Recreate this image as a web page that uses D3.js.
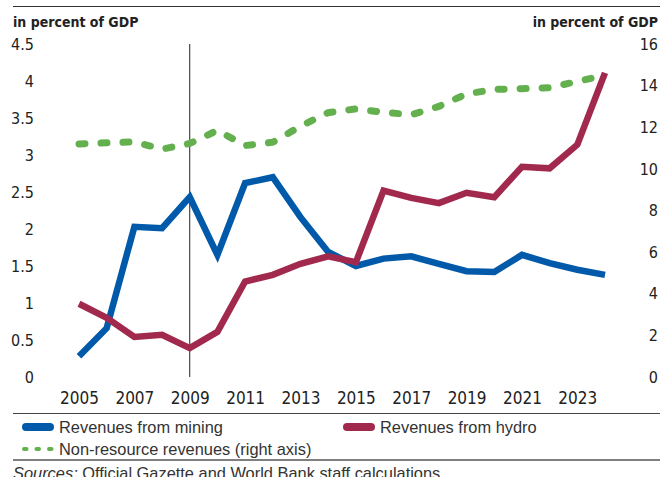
<!DOCTYPE html>
<html>
<head>
<meta charset="utf-8">
<script src="https://cdn.jsdelivr.net/npm/d3@7"></script>
<style>
  body { margin: 0; background: #fff; }
  svg { display: block; }
  .num { font-family: "DejaVu Sans Condensed", "DejaVu Sans", sans-serif; font-stretch: condensed; fill: #222; }
  .txt { font-family: "Liberation Sans", Arial, sans-serif; fill: #333; }
</style>
</head>
<body>
<div id="chart"></div>
<script>
// Data
const years = [2005, 2006, 2007, 2008, 2009, 2010, 2011, 2012, 2013, 2014,
               2015, 2016, 2017, 2018, 2019, 2020, 2021, 2022, 2023, 2024];
const mining = [0.28, 0.66, 2.03, 2.01, 2.43, 1.65, 2.62, 2.70, 2.16, 1.69,
                1.50, 1.60, 1.63, 1.53, 1.43, 1.42, 1.65, 1.54, 1.45, 1.38];
const hydro = [0.99, 0.80, 0.54, 0.57, 0.39, 0.61, 1.29, 1.38, 1.53, 1.63,
               1.55, 2.52, 2.42, 2.35, 2.49, 2.43, 2.84, 2.82, 3.14, 4.11];
const nonResource = [11.2, 11.25, 11.3, 10.95, 11.22, 11.85, 11.12, 11.28, 12.05, 12.7,
                     12.88, 12.72, 12.6, 13.0, 13.6, 13.82, 13.85, 13.9, 14.2, 14.5];
const xTicks = [2005, 2007, 2009, 2011, 2013, 2015, 2017, 2019, 2021, 2023];
const leftTicks = [0, 0.5, 1, 1.5, 2, 2.5, 3, 3.5, 4, 4.5];
const rightTicks = [0, 2, 4, 6, 8, 10, 12, 14, 16];
const markerYear = 2009;

const width = 660, height = 477;
const blue = '#0059a9', maroon = '#a2294e', green = '#64b04f';

const svg = d3.select('#chart').append('svg')
  .attr('width', width).attr('height', height);

const x = d3.scaleLinear().domain([2005, 2024]).range([79, 605]);
const yL = d3.scaleLinear().domain([0, 4.5]).range([377, 44]);
const yR = d3.scaleLinear().domain([0, 16]).range([377, 44]);

// top rule and axis titles
svg.append('line').attr('x1', 13).attr('x2', width).attr('y1', 6.5).attr('y2', 6.5)
  .attr('stroke', '#333').attr('stroke-width', 1);
svg.append('text').attr('class', 'num').attr('x', 13).attr('y', 27)
  .style('font-size', '14px').style('font-weight', 'bold')
  .text('in percent of GDP');
svg.append('text').attr('class', 'num').attr('x', 658).attr('y', 27)
  .attr('text-anchor', 'end')
  .style('font-size', '14px').style('font-weight', 'bold')
  .text('in percent of GDP');

// axes (labels only, no domain or ticks)
const leftAxis = svg.append('g').attr('transform', 'translate(34,0)')
  .call(d3.axisLeft(yL).tickValues(leftTicks).tickSize(0).tickPadding(0).tickFormat(d => d));
const rightAxis = svg.append('g').attr('transform', 'translate(658,0)')
  .call(d3.axisLeft(yR).tickValues(rightTicks).tickSize(0).tickPadding(0).tickFormat(d => d));
const bottomAxis = svg.append('g').attr('transform', 'translate(0,388)')
  .call(d3.axisBottom(x).tickValues(xTicks).tickSize(0).tickPadding(0).tickFormat(d3.format('d')));

[leftAxis, rightAxis, bottomAxis].forEach(a => {
  a.select('.domain').remove();
  a.selectAll('text').attr('class', 'num')
    .attr('font-family', null).style('font-size', '16px');
});
bottomAxis.selectAll('text').style('font-size', '17px').attr('dy', '0.95em');

// reference line at 2009
svg.append('line')
  .attr('x1', x(markerYear)).attr('x2', x(markerYear))
  .attr('y1', yL(4.5)).attr('y2', yL(0))
  .attr('stroke', '#222').attr('stroke-width', 1);

// series
const lineL = vals => d3.line().x((d, i) => x(years[i])).y(d => yL(d))(vals);
const lineR = vals => d3.line().x((d, i) => x(years[i])).y(d => yR(d))(vals);

svg.append('path').attr('d', lineR(nonResource))
  .attr('fill', 'none').attr('stroke', green).attr('stroke-width', 7)
  .attr('stroke-linecap', 'round').attr('stroke-dasharray', '6,16');

svg.append('path').attr('d', lineL(mining))
  .attr('fill', 'none').attr('stroke', blue).attr('stroke-width', 6.5)
  .attr('stroke-linejoin', 'miter');

svg.append('path').attr('d', lineL(hydro))
  .attr('fill', 'none').attr('stroke', maroon).attr('stroke-width', 6.5)
  .attr('stroke-linejoin', 'miter');

// legend
svg.append('line').attr('x1', 13).attr('x2', width).attr('y1', 413.5).attr('y2', 413.5)
  .attr('stroke', '#444').attr('stroke-width', 1);
svg.append('line').attr('x1', 13).attr('x2', width).attr('y1', 460).attr('y2', 460)
  .attr('stroke', '#555').attr('stroke-width', 1.5);

const legend = [
  { label: 'Revenues from mining', color: blue, x: 22, y: 427, dashed: false },
  { label: 'Revenues from hydro', color: maroon, x: 343, y: 427, dashed: false },
  { label: 'Non-resource revenues (right axis)', color: green, x: 22, y: 449, dashed: true }
];
legend.forEach(d => {
  const sw = svg.append('line')
    .attr('y1', d.y).attr('y2', d.y)
    .attr('stroke', d.color).attr('stroke-linecap', 'round');
  if (d.dashed) {
    sw.attr('x1', d.x + 2).attr('x2', d.x + 31).attr('stroke-width', 4)
      .attr('stroke-dasharray', '2.5,10');
  } else {
    sw.attr('x1', d.x + 4).attr('x2', d.x + 28).attr('stroke-width', 8);
  }
  svg.append('text').attr('class', 'txt')
    .attr('x', d.x + 37).attr('y', d.y + 5.5)
    .style('font-size', '16.4px')
    .text(d.label);
});

// source note
const src = svg.append('text').attr('class', 'txt')
  .attr('x', 13).attr('y', 479).style('font-size', '16.4px');
src.append('tspan').style('font-style', 'italic').text('Sources:');
src.append('tspan').text(' Official Gazette and World Bank staff calculations');
</script>
</body>
</html>
